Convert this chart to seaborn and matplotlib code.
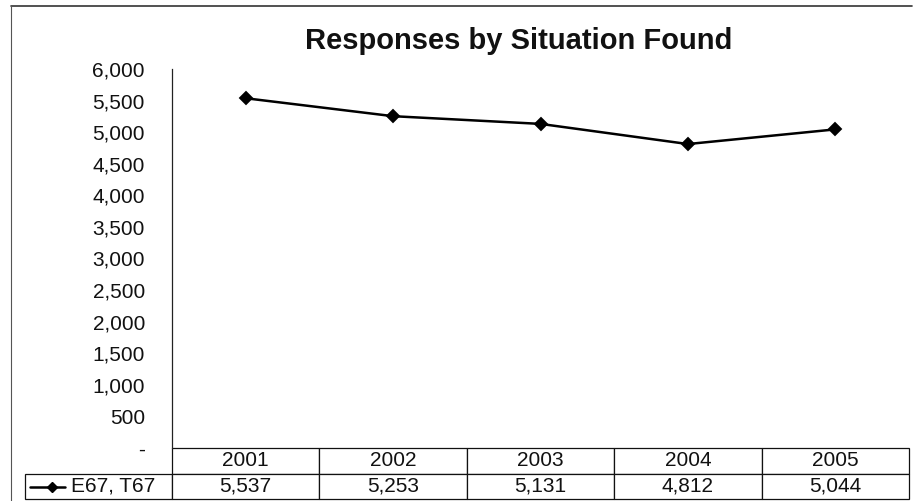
import pandas as pd
import matplotlib.pyplot as plt
import seaborn as sns
from matplotlib.lines import Line2D
from matplotlib.ticker import FuncFormatter, MultipleLocator

# data
years = ['2001', '2002', '2003', '2004', '2005']
responses = [5537, 5253, 5131, 4812, 5044]
series_name = 'E67, T67'
title = 'Responses by Situation Found'

df = pd.DataFrame({'year': years, 'responses': responses})

sns.set_style('white')
plt.rcParams['font.family'] = ['Liberation Sans', 'DejaVu Sans']

W, H = 914, 501
fig = plt.figure(figsize=(W / 100, H / 100), dpi=100)

# axes box in pixels: left 172, right 909, top 69, bottom 448
ax = fig.add_axes([172 / W, (H - 448) / H, 737 / W, 379 / H])

sns.pointplot(data=df, x='year', y='responses', ax=ax, color='black',
              markers='D', markersize=6, linewidth=1.8, errorbar=None)

ax.set_ylim(0, 6000)
ax.set_xlim(-0.5, len(years) - 0.5)
ax.yaxis.set_major_locator(MultipleLocator(500))
ax.yaxis.set_major_formatter(FuncFormatter(lambda v, p: '-' if v == 0 else f'{v:,.0f}'))
ax.tick_params(axis='y', length=0, pad=19.5, labelsize=15, labelcolor='#111111')
ax.set_xticks([])
ax.set_xlabel('')
ax.set_ylabel('')
for s in ['top', 'right', 'bottom']:
    ax.spines[s].set_visible(False)
ax.spines['left'].set_color('#222222')
ax.spines['left'].set_linewidth(0.9)

# data table under the plot: first column holds the legend key
h = 51 / 379
tbl = ax.table(cellText=[[''] + years, [''] + [f'{v:,}' for v in responses]],
               cellLoc='center', bbox=[-0.2, -h, 1.2, h])
tbl.auto_set_font_size(False)
tbl.set_fontsize(15)
for (r, c), cell in tbl.get_celld().items():
    cell.set_edgecolor('#111111')
    cell.set_linewidth(0.9)
    cell.get_text().set_color('#111111')
tbl[0, 0].visible_edges = ''

# legend key inside the row-label cell
yrow = (448 - 486.5) / 379
ax.add_line(Line2D([(30 - 172) / 737, (65 - 172) / 737], [yrow, yrow],
                   transform=ax.transAxes, color='black', lw=1.8, clip_on=False))
ax.add_line(Line2D([(52 - 172) / 737], [yrow], transform=ax.transAxes,
                   color='black', marker='D', markersize=5, clip_on=False))
ax.text((71 - 172) / 737, yrow, series_name, transform=ax.transAxes,
        ha='left', va='center', fontsize=15, color='#111111')

fig.text(519 / W, 1 - 41 / H, title, ha='center', va='center',
         fontsize=21, fontweight='bold', color='#111111')

# outer chart frame (top and left edges visible)
fig.add_artist(Line2D([11 / W, 912 / W], [1 - 6 / H, 1 - 6 / H],
                      transform=fig.transFigure, color='#333333', lw=1.2))
fig.add_artist(Line2D([11 / W, 11 / W], [1 - 6 / H, 0],
                      transform=fig.transFigure, color='#555555', lw=0.8))

plt.savefig('out.png', dpi=100)
